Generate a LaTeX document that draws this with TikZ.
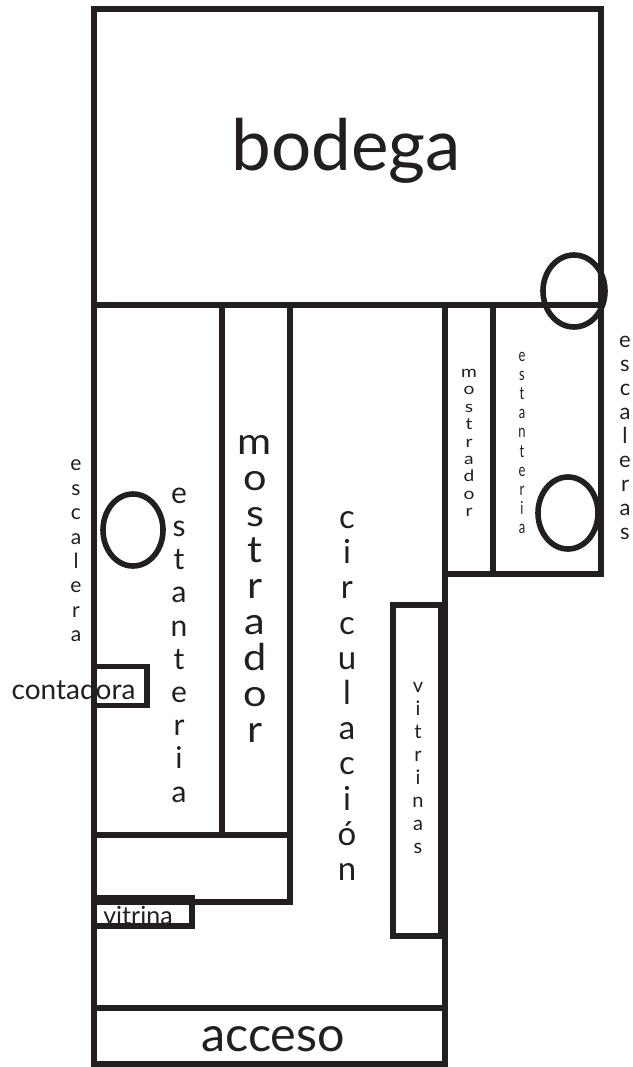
\documentclass[tikz,border=0pt]{standalone}
\usepackage{fontspec}
\setmainfont{Lato}
\newfontfamily\narrowfont[FakeStretch=.72]{Lato}
\newfontfamily\widefont[FakeStretch=1.2]{Lato}
\newfontfamily\bigwidefont[FakeStretch=1.12]{Lato}
\definecolor{ink}{HTML}{231F20}
\tikzset{
  wall/.style={draw=ink,line width=5.6pt,line join=miter,fill=none},
  lab/.style={inner sep=0pt,outer sep=0pt,text=ink,align=center},
}
\begin{document}
\begin{tikzpicture}[x=1pt,y=-1pt]
\useasboundingbox (0,0) rectangle (632,1067);
\fill[white] (0,0) rectangle (632,1067);
\draw[wall] (94,9) rectangle (601,305);
\draw[wall] (94,305) -- (94,1064) -- (445,1064) -- (445,305);
\draw[wall] (94,1008) -- (445,1008);
\draw[wall] (445,305) rectangle (601,574);
\draw[wall] (493,305) -- (493,574);
\draw[wall] (222,305) -- (222,835);
\draw[wall] (290,305) -- (290,902) -- (94,902);
\draw[wall] (94,835) -- (290,835);
\draw[wall] (393,605) rectangle (441,936);
\draw[wall] (93.5,898) rectangle (192,926);
\draw[wall] (93.5,666.5) rectangle (147,705.5);
\draw[wall] (574,291) ellipse (31 and 36);
\draw[wall] (568,513) ellipse (30 and 36);
\draw[wall] (133,530) ellipse (30 and 36);
\node[lab,font=\fontsize{71}{75}\selectfont] (bodega) at (346,151) {bodega};
\node[lab,font=\fontsize{48.5}{52}\selectfont] (acceso) at (273,1039) {acceso};
\node[lab,font=\fontsize{28}{30}\selectfont,anchor=base] (contadora) at (73.5,699) {contadora};
\node[lab,font=\fontsize{25}{26}\selectfont,anchor=base] (vitrina) at (138,924) {vitrina};
\node[lab,font=\fontsize{30}{33.2}\selectfont] (estanteria) at (179,645) {e\\s\\t\\a\\n\\t\\e\\r\\i\\a};
\node[lab,font=\bigwidefont\fontsize{37}{36}\selectfont] (mostrador) at (255,589) {m\\o\\s\\t\\r\\a\\d\\o\\r};
\node[lab,font=\fontsize{33}{35.2}\selectfont] (circulacion) at (347,696) {c\\i\\r\\c\\u\\l\\a\\c\\i\\ó\\n};
\node[lab,font=\fontsize{20}{23}\selectfont] (vitrinas) at (418,768) {v\\i\\t\\r\\i\\n\\a\\s};
\node[lab,font=\widefont\fontsize{16}{17.4}\selectfont] (mostrador2) at (469,443) {m\\o\\s\\t\\r\\a\\d\\o\\r};
\node[lab,font=\narrowfont\fontsize{18}{19.2}\selectfont] (estanteria2) at (522,443) {e\\s\\t\\a\\n\\t\\e\\r\\i\\a};
\node[lab,font=\fontsize{22}{24}\selectfont] (escaleras) at (625,438) {e\\s\\c\\a\\l\\e\\r\\a\\s};
\node[lab,font=\fontsize{21}{24.4}\selectfont] (escalera) at (76,551) {e\\s\\c\\a\\l\\e\\r\\a};
\end{tikzpicture}
\end{document}
